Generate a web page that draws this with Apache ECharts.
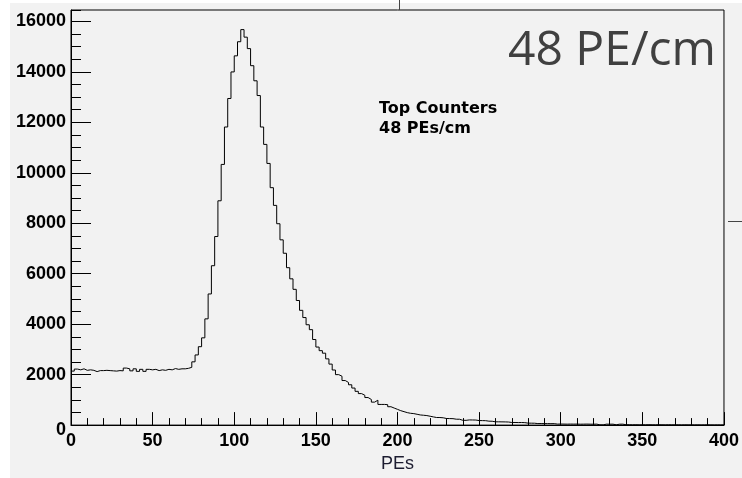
<!DOCTYPE html>
<html>
<head>
<meta charset="utf-8">
<script src="https://cdn.jsdelivr.net/npm/echarts@6/dist/echarts.min.js"></script>
<style>
  html, body { margin: 0; padding: 0; background: #fff; }
  #chart { width: 742px; height: 478px; }
</style>
</head>
<body>
<div id="chart"></div>
<script>
// histogram: 200 bins of 2 PE, from 0 to 400
const binWidth = 2;
const xMax = 400;
const yMax = 16450;

// flat part, bins 0..70
const baseCounts = [2140, 2220, 2190, 2230, 2170, 2190, 2170, 2120, 2160, 2160,
  2170, 2160, 2150, 2140, 2160, 2150, 2260, 2230, 2150, 2230,
  2130, 2210, 2130, 2210, 2190, 2210, 2160, 2190, 2170, 2210,
  2190, 2240, 2210, 2230, 2230, 2250];

// peak, bins 72..158
const peakCounts = [2290, 2507, 2780, 3107, 3458, 4210, 5197, 6316, 7473, 8889,
  10331, 11813, 12943, 13996, 14633, 15193, 15673, 15374, 14920, 14243,
  13645, 13060, 11813, 11124, 10370, 9409, 8707, 7980, 7342, 6810,
  6238, 5796, 5380, 4938, 4548, 4262, 3977, 3782, 3392, 3093,
  2950, 2850, 2625, 2417];

// tail, bins 160..398
const tailCounts = [2183, 2000, 1937, 1766, 1690, 1598, 1468, 1338, 1248, 1183,
  1092, 1014, 910, 987, 819, 819, 810, 728, 675, 624,
  572, 533, 494, 468, 455, 429, 402, 390, 377, 351,
  325,
  300, 300, 290, 262, 258, 255, 234, 232, 190, 188,
  205, 203, 200, 180, 178, 175, 156, 152, 130, 130,
  128, 126, 122, 104, 104, 100, 102, 98, 78, 76,
  74, 60, 62, 58, 60, 56, 58, 40, 42,
  40, 38, 41, 39, 40, 36, 38, 40, 37, 35,
  39, 12, 10, 38, 36, 37, 12, 36, 38, 14,
  15, 12, 14, 10, 13, 11, 15, 12, 10, 14,
  12, 9, 13, 11, 10, 12, 8, 11, 9, 10,
  8, 10, 7, 9, 11, 8, 6, 9, 7, 8];

const xTickStep = 50;
const yTickStep = 2000;
const yMinorStep = 500;

const titleText = '48 PE/cm';
const noteLines = ['Top Counters', '48 PEs/cm'];
const xName = 'PEs';

const buildSeries = () => {
  const counts = baseCounts.concat(peakCounts, tailCounts);
  const pts = counts.map((c, i) => [i * binWidth, c]);
  pts.push([xMax, counts[counts.length - 1]]);
  return pts;
};

const labelFont = { fontFamily: 'Liberation Sans, Arial, sans-serif', fontWeight: 'bold', color: '#000' };

const getOption = () => {
  return {
    backgroundColor: '#f2f2f2',
    animation: false,
    grid: {
      left: 71, right: 14, top: 10, bottom: 46,
      show: true, borderColor: '#000', borderWidth: 1, backgroundColor: 'transparent'
    },
    xAxis: {
      type: 'value',
      min: 0, max: xMax, interval: xTickStep,
      name: xName,
      nameLocation: 'middle',
      nameGap: 25,
      nameTextStyle: { fontFamily: 'Liberation Sans, Arial, sans-serif', fontSize: 18, color: '#1c1c30' },
      axisLine: { lineStyle: { color: '#000', width: 1 } },
      axisTick: { inside: true, length: 13, lineStyle: { color: '#000' } },
      minorTick: { show: true, splitNumber: 5, length: 7, lineStyle: { color: '#000' } },
      axisLabel: Object.assign({ fontSize: 18, margin: 7 }, labelFont),
      splitLine: { show: false }
    },
    yAxis: [
      {
        type: 'value',
        min: 0, max: yMax, interval: yTickStep,
        axisLine: { show: true, lineStyle: { color: '#000', width: 1 } },
        axisTick: { inside: true, length: 20, lineStyle: { color: '#000' } },
        axisLabel: Object.assign({
          fontSize: 18, margin: 5, showMaxLabel: false,
          formatter: (v) => v === 0 ? '{z|0}' : String(v),
          rich: { z: Object.assign({ fontSize: 18, padding: [10, 0, 0, 0] }, labelFont) }
        }, labelFont),
        splitLine: { show: false }
      },
      {
        type: 'value',
        min: 0, max: yMax, interval: yMinorStep,
        position: 'left',
        axisLine: { show: false },
        axisTick: { inside: true, length: 10, lineStyle: { color: '#000' } },
        axisLabel: { show: false },
        splitLine: { show: false }
      }
    ],
    graphic: [
      { type: 'rect', shape: { x: 0, y: 0, width: 10, height: 478 }, style: { fill: '#fff' }, silent: true },
      { type: 'rect', shape: { x: 0, y: 0, width: 742, height: 3 }, style: { fill: '#fff' }, silent: true },
      { type: 'line', shape: { x1: 399.5, y1: 0, x2: 399.5, y2: 10 }, style: { stroke: '#444', lineWidth: 1 }, silent: true },
      { type: 'line', shape: { x1: 728, y1: 221.5, x2: 742, y2: 221.5 }, style: { stroke: '#444', lineWidth: 1 }, silent: true },
      {
        type: 'text', silent: true,
        style: { text: titleText, x: 508, y: 51, font: '48px "Open Sans"', fill: '#404040', textVerticalAlign: 'middle' }
      },
      {
        type: 'text', silent: true,
        style: { text: noteLines[0], x: 379, y: 109, font: 'bold 16px "DejaVu Sans"', fill: '#000', textVerticalAlign: 'middle' }
      },
      {
        type: 'text', silent: true,
        style: { text: noteLines[1], x: 379, y: 129, font: 'bold 16px "DejaVu Sans"', fill: '#000', textVerticalAlign: 'middle' }
      }
    ],
    series: [
      {
        type: 'line',
        step: 'end',
        yAxisIndex: 0,
        data: buildSeries(),
        showSymbol: false,
        symbol: 'none',
        lineStyle: { color: '#000', width: 1 }
      }
    ]
  };
};

window.addEventListener('load', () => {
  const chart = echarts.init(document.getElementById('chart'));
  chart.setOption(getOption());
});
</script>
</body>
</html>
